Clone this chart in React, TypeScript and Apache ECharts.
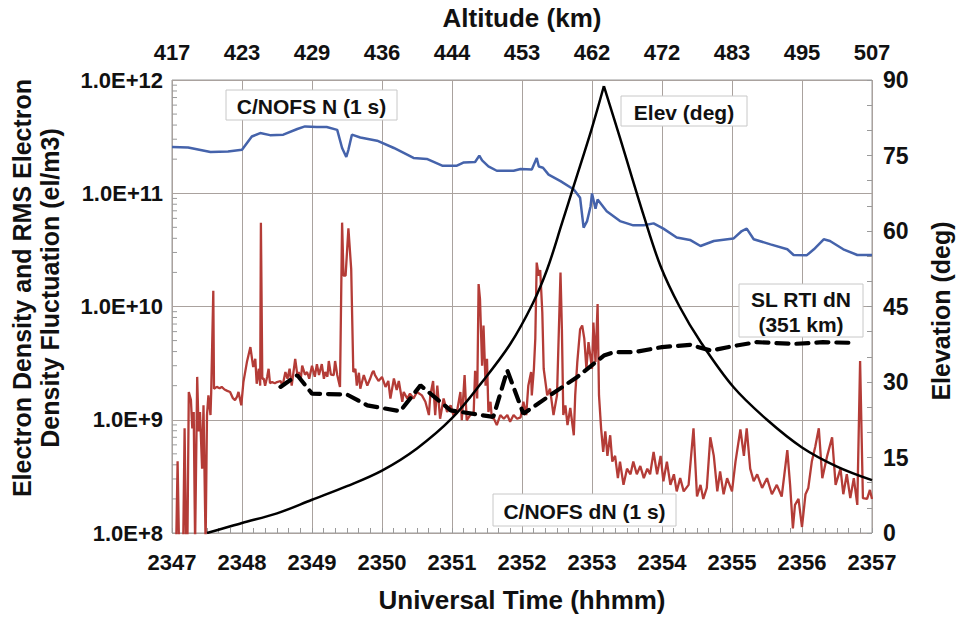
import React, { useEffect, useRef } from "react";
import * as echarts from "echarts";

// ---------- data ----------
const altitudeLabels = ["417", "423", "429", "436", "444", "453", "462", "472", "483", "495", "507"];

// C/NOFS N (1 s)  [UT hhmm, el/m3]
const cnofsN: [number, number][] = [
  [2347.0, 2.56e11], [2347.23, 2.54e11], [2347.55, 2.31e11], [2347.8, 2.34e11], [2348.0, 2.42e11],
  [2348.14, 3.17e11], [2348.26, 3.4e11], [2348.4, 3.26e11], [2348.59, 3.29e11], [2348.79, 3.69e11],
  [2348.9, 3.89e11], [2349.07, 3.84e11], [2349.21, 3.84e11], [2349.36, 3.63e11], [2349.43, 2.51e11],
  [2349.49, 2.09e11], [2349.52, 2.42e11], [2349.57, 3.29e11], [2349.69, 3.11e11], [2349.93, 2.91e11],
  [2350.17, 2.51e11], [2350.45, 2.05e11], [2350.64, 2.01e11], [2350.86, 1.75e11], [2351.07, 1.75e11],
  [2351.17, 1.87e11], [2351.33, 1.89e11], [2351.39, 2.15e11], [2351.43, 1.95e11], [2351.52, 1.73e11],
  [2351.64, 1.58e11], [2351.88, 1.58e11], [2351.98, 1.64e11], [2352.14, 1.62e11], [2352.21, 2.05e11],
  [2352.24, 1.72e11], [2352.3, 1.68e11], [2352.38, 1.46e11], [2352.55, 1.28e11], [2352.74, 1.08e11],
  [2352.83, 9.12e10], [2352.88, 4.97e10], [2352.93, 5.68e10], [2352.98, 7.69e10], [2353.0, 9.95e10],
  [2353.05, 7.3e10], [2353.08, 8.81e10], [2353.21, 6.95e10], [2353.4, 5.68e10], [2353.59, 5.21e10],
  [2353.74, 5.21e10], [2353.88, 5.42e10], [2354.02, 4.87e10], [2354.21, 4.06e10], [2354.4, 3.87e10],
  [2354.55, 3.42e10], [2354.74, 3.79e10], [2355.02, 3.98e10], [2355.14, 4.64e10], [2355.21, 4.87e10],
  [2355.31, 3.92e10], [2355.55, 3.54e10], [2355.79, 3.2e10], [2355.88, 2.85e10], [2356.07, 2.84e10],
  [2356.17, 3.2e10], [2356.31, 3.92e10], [2356.4, 3.79e10], [2356.59, 3.2e10], [2356.79, 2.85e10],
  [2357.0, 2.85e10],
];

// C/NOFS dN (1 s)  [UT hhmm, el/m3]  (8e7 = below the axis floor)
const cnofsDN: [number, number][] = [
  [2347.0, 8e7], [2347.06, 8e7], [2347.08, 4.3e8], [2347.1, 8e7], [2347.16, 8e7], [2347.18, 8.4e8],
  [2347.2, 8e7], [2347.22, 8e7], [2347.24, 1.76e9], [2347.27, 1.5e9], [2347.29, 8.4e8], [2347.31, 1.17e9],
  [2347.33, 8e7], [2347.36, 2.39e9], [2347.38, 7.9e8], [2347.4, 1.17e9], [2347.43, 3.7e8], [2347.45, 1.34e9],
  [2347.48, 8e7], [2347.5, 1.1e9], [2347.52, 1.64e9], [2347.55, 1.1e9], [2347.56, 1.76e9], [2347.59, 1.38e10],
  [2347.6, 1.88e9], [2347.64, 1.95e9], [2347.68, 1.9e9], [2347.71, 1.95e9], [2347.75, 1.85e9], [2347.79, 1.8e9],
  [2347.83, 1.76e9], [2347.87, 1.55e9], [2347.9, 1.49e9], [2347.93, 1.6e9], [2347.95, 1.76e9], [2347.99, 1.34e9],
  [2348.02, 2.15e9], [2348.07, 3.23e9], [2348.12, 4.38e9], [2348.16, 2.92e9], [2348.19, 3.45e9], [2348.21, 2.08e9],
  [2348.24, 2.82e9], [2348.26, 2.0e9], [2348.27, 5.5e10], [2348.29, 2.3e9], [2348.31, 2.31e9], [2348.33, 2.0e9],
  [2348.36, 2.4e9], [2348.38, 2.82e9], [2348.4, 2.1e9], [2348.43, 2.15e9], [2348.47, 2.1e9], [2348.5, 2.15e9],
  [2348.55, 2.2e9], [2348.58, 2.0e9], [2348.62, 2.64e9], [2348.65, 2.3e9], [2348.68, 2.82e9], [2348.71, 2.0e9],
  [2348.76, 3.45e9], [2348.79, 2.5e9], [2348.81, 2.64e9], [2348.84, 2.3e9], [2348.86, 3.0e9], [2348.9, 2.5e9],
  [2348.93, 2.64e9], [2348.96, 2.3e9], [2349.0, 3.0e9], [2349.04, 2.4e9], [2349.07, 3.1e9], [2349.1, 2.48e9],
  [2349.14, 3.1e9], [2349.17, 2.3e9], [2349.19, 2.64e9], [2349.22, 2.4e9], [2349.24, 3.3e9], [2349.27, 2.5e9],
  [2349.31, 2.48e9], [2349.33, 3.3e9], [2349.36, 2.5e9], [2349.38, 2.2e9], [2349.4, 1.95e9], [2349.43, 5.5e10],
  [2349.45, 1.87e10], [2349.48, 1.87e10], [2349.52, 4.9e10], [2349.56, 2.14e10], [2349.59, 2.64e9],
  [2349.62, 2.82e9], [2349.64, 2.0e9], [2349.67, 2.6e9], [2349.69, 1.88e9], [2349.74, 2.48e9], [2349.79, 2.0e9],
  [2349.83, 2.3e9], [2349.86, 2.6e9], [2349.88, 2.7e9], [2349.9, 2.48e9], [2349.95, 2.2e9], [2350.0, 2.39e9],
  [2350.05, 1.95e9], [2350.09, 2.2e9], [2350.12, 1.54e9], [2350.17, 2.31e9], [2350.21, 1.83e9], [2350.24, 2.2e9],
  [2350.29, 1.44e9], [2350.31, 1.76e9], [2350.36, 1.54e9], [2350.4, 1.7e9], [2350.45, 1.54e9], [2350.5, 1.76e9],
  [2350.57, 1.64e9], [2350.62, 1.44e9], [2350.67, 1.1e9], [2350.69, 1.64e9], [2350.73, 2.2e9], [2350.76, 1.1e9],
  [2350.79, 2.0e9], [2350.83, 1.02e9], [2350.88, 1.54e9], [2350.93, 1.17e9], [2350.98, 1.34e9], [2351.02, 1.1e9],
  [2351.07, 1.17e9], [2351.12, 1.76e9], [2351.14, 9.9e8], [2351.18, 2.48e9], [2351.21, 9.9e8], [2351.26, 1.1e9],
  [2351.31, 1.17e9], [2351.33, 2.7e9], [2351.36, 1.54e9], [2351.38, 1.58e10], [2351.4, 1.16e10], [2351.43, 3.0e9],
  [2351.45, 6.8e9], [2351.48, 2.0e9], [2351.5, 3.45e9], [2351.52, 1.17e9], [2351.55, 1.44e9], [2351.57, 1.02e9],
  [2351.59, 1.05e9], [2351.64, 8.96e8], [2351.69, 1.1e9], [2351.74, 1.02e9], [2351.79, 1.1e9], [2351.83, 9.6e8],
  [2351.88, 1.1e9], [2351.93, 1.02e9], [2351.98, 1.05e9], [2352.02, 1.44e9], [2352.06, 1.1e9], [2352.09, 2.0e9],
  [2352.13, 2.64e9], [2352.14, 1.64e9], [2352.17, 2.82e9], [2352.19, 5.2e9], [2352.21, 2.44e10], [2352.24, 1.87e10],
  [2352.26, 2.1e10], [2352.29, 8.9e9], [2352.31, 2.82e9], [2352.36, 1.64e9], [2352.4, 1.88e9], [2352.45, 1.1e9],
  [2352.5, 1.64e9], [2352.55, 2.0e10], [2352.57, 6.3e9], [2352.59, 1.1e9], [2352.62, 1.34e9], [2352.65, 8.96e8],
  [2352.69, 1.27e9], [2352.74, 7.3e8], [2352.76, 1.64e9], [2352.79, 3.23e9], [2352.83, 6.3e9], [2352.86, 6.8e9],
  [2352.89, 5.2e9], [2352.92, 2.82e9], [2352.95, 4.84e9], [2353.0, 2.82e9], [2353.02, 7.2e9], [2353.05, 3.23e9],
  [2353.08, 1.05e10], [2353.1, 1.64e9], [2353.13, 8.4e8], [2353.16, 5.2e8], [2353.19, 7.9e8], [2353.22, 4.8e8],
  [2353.26, 7.3e8], [2353.29, 4.27e8], [2353.33, 4.8e8], [2353.37, 3.05e8], [2353.4, 4.27e8], [2353.45, 2.66e8],
  [2353.5, 3.7e8], [2353.55, 3.3e8], [2353.59, 4.27e8], [2353.64, 3.3e8], [2353.69, 3.9e8], [2353.74, 3.05e8],
  [2353.79, 3.7e8], [2353.83, 3.3e8], [2353.88, 5.2e8], [2353.93, 3.3e8], [2353.98, 4.8e8], [2354.02, 2.86e8],
  [2354.07, 4.27e8], [2354.12, 2.66e8], [2354.17, 3.3e8], [2354.21, 2.33e8], [2354.26, 3.05e8], [2354.31, 2.33e8],
  [2354.38, 2.66e8], [2354.45, 8.4e8], [2354.5, 2.1e8], [2354.55, 2.66e8], [2354.59, 2.0e8], [2354.64, 2.5e8],
  [2354.69, 7.0e8], [2354.74, 4.8e8], [2354.79, 2.33e8], [2354.83, 3.5e8], [2354.88, 2.2e8], [2354.93, 3.05e8],
  [2355.0, 2.33e8], [2355.05, 4.27e8], [2355.12, 8.2e8], [2355.17, 4.8e8], [2355.21, 8.4e8], [2355.26, 3.7e8],
  [2355.31, 2.86e8], [2355.36, 3.3e8], [2355.43, 2.5e8], [2355.5, 3.05e8], [2355.57, 2.2e8], [2355.64, 2.66e8],
  [2355.71, 2.1e8], [2355.79, 5.4e8], [2355.83, 2.66e8], [2355.87, 1.1e8], [2355.9, 1.77e8], [2355.95, 2.0e8],
  [2356.0, 1.13e8], [2356.05, 2.2e8], [2356.09, 2.5e8], [2356.14, 4.27e8], [2356.19, 5.8e8], [2356.24, 8.4e8],
  [2356.29, 3.05e8], [2356.36, 4.8e8], [2356.43, 7.0e8], [2356.48, 2.66e8], [2356.55, 3.7e8], [2356.59, 2.2e8],
  [2356.64, 3.3e8], [2356.69, 2.03e8], [2356.74, 3.05e8], [2356.79, 1.77e8], [2356.83, 3.3e9], [2356.87, 2.03e8],
  [2356.93, 2.0e8], [2356.97, 2.4e8], [2357.0, 2.0e8],
];

// SL RTI dN (351 km)  [UT hhmm, el/m3]
const slRtiDN: [number, number][] = [
  [2348.55, 1.95e9], [2348.79, 2.47e9], [2349.0, 1.7e9], [2349.5, 1.67e9], [2349.79, 1.34e9],
  [2350.26, 1.19e9], [2350.55, 2.01e9], [2350.98, 1.21e9], [2351.59, 1.06e9], [2351.79, 2.73e9],
  [2352.02, 1.13e9], [2352.4, 1.64e9], [2352.79, 2.39e9], [2353.17, 3.69e9], [2353.31, 3.95e9],
  [2353.6, 3.95e9], [2354.0, 4.38e9], [2354.4, 4.59e9], [2354.7, 4.08e9], [2355.0, 4.45e9],
  [2355.35, 4.84e9], [2355.9, 4.68e9], [2356.3, 4.84e9], [2356.75, 4.77e9],
];

// Elev (deg)  [UT hhmm, deg] — rising and setting halves of the pass
const elevationRise: [number, number][] = [
  [2347.5, 0], [2347.75, 1.0], [2348.0, 2.0], [2348.5, 3.9], [2349.0, 6.6], [2349.5, 9.3],
  [2350.0, 12.4], [2350.5, 16.8], [2351.0, 22.8], [2351.43, 30.0], [2351.83, 37.5], [2352.15, 45.5],
  [2352.36, 52.4], [2352.57, 61.5], [2352.74, 69.0], [2353.0, 80.5], [2353.17, 88.8],
];
const elevationSet: [number, number][] = [
  [2353.17, 88.8], [2353.4, 78.5], [2353.74, 63.0], [2353.98, 53.0], [2354.25, 45.0], [2354.55, 38.0],
  [2355.02, 29.0], [2355.5, 22.5], [2356.0, 17.0], [2356.5, 13.2], [2357.0, 10.5],
];

// log-axis minor tick positions (2..9 within every decade)
const decades = [1e8, 1e9, 1e10, 1e11];
const minorMultipliers = [2, 3, 4, 5, 6, 7, 8, 9];

const legendBoxes = [
  { text: "C/NOFS N (1 s)", x: 226, y: 90, w: 171, h: 30 },
  { text: "Elev (deg)", x: 621, y: 96, w: 126, h: 30 },
  { text: "SL RTI dN\n(351 km)", x: 739, y: 284, w: 124, h: 53 },
  { text: "C/NOFS dN (1 s)", x: 493, y: 494, w: 183, h: 32 },
];

const SANS = "'Liberation Sans', Arial, sans-serif";
const NARROW = "'Liberation Sans Narrow', 'Liberation Sans', Arial, sans-serif";
const GRID = "#aaa29e";
const TICK = "#9a9a9a";

export default function App() {
  const ref = useRef<HTMLDivElement>(null);

  useEffect(() => {
    if (!ref.current) return;
    const chart = echarts.init(ref.current, undefined, { renderer: "svg" });

    const minorTicks: [number, number][] = [];
    decades.forEach((d) => minorMultipliers.forEach((m) => minorTicks.push([2347, d * m])));

    const tickLabel = {
      fontFamily: NARROW,
      fontWeight: "bold" as const,
      fontSize: 22,
      color: "#111",
    };
    const titleStyle = { fontFamily: SANS, fontWeight: "bold" as const, fontSize: 26, color: "#111" };

    const elevLine = { color: "#000", width: 2.5 };

    const option: any = {
      animation: false,
      backgroundColor: "#fff",
      grid: {
        left: 172,
        right: 84,
        top: 80,
        bottom: 83,
        show: true,
        borderColor: "#9a9a9a",
        borderWidth: 1,
      },
      xAxis: [
        {
          type: "value",
          min: 2347,
          max: 2357,
          interval: 1,
          position: "bottom",
          name: "Universal Time (hhmm)",
          nameLocation: "middle",
          nameGap: 54,
          nameTextStyle: titleStyle,
          axisLine: { show: false },
          axisTick: { show: true, inside: true, length: 5, lineStyle: { color: TICK } },
          minorTick: { show: true, splitNumber: 6, length: 5, lineStyle: { color: TICK } },
          splitLine: { show: true, lineStyle: { color: GRID, width: 1 } },
          axisLabel: { ...tickLabel, margin: 18, formatter: (v: number) => String(Math.round(v)) },
        },
        {
          type: "value",
          min: 2347,
          max: 2357,
          interval: 1,
          position: "top",
          name: "Altitude (km)",
          nameLocation: "middle",
          nameGap: 49,
          nameTextStyle: titleStyle,
          axisLine: { show: false },
          axisTick: { show: false },
          splitLine: { show: false },
          axisLabel: {
            ...tickLabel,
            margin: 17,
            formatter: (v: number) => altitudeLabels[Math.round(v - 2347)] ?? "",
          },
        },
      ],
      yAxis: [
        {
          type: "log",
          logBase: 10,
          min: 1e8,
          max: 1e12,
          position: "left",
          axisLine: { show: false },
          axisTick: { show: false },
          splitLine: { show: true, lineStyle: { color: GRID, width: 1 } },
          axisLabel: {
            fontFamily: SANS,
            fontWeight: "bold",
            fontSize: 22,
            color: "#111",
            margin: 9,
            formatter: (v: number) => v.toExponential(1).toUpperCase(),
          },
        },
        {
          type: "value",
          min: 0,
          max: 90,
          interval: 15,
          position: "right",
          axisLine: { show: false },
          axisTick: { show: true, inside: true, length: 5, lineStyle: { color: TICK } },
          minorTick: { show: true, splitNumber: 3, length: 5, lineStyle: { color: TICK } },
          splitLine: { show: false },
          axisLabel: { ...tickLabel, fontSize: 23, margin: 11 },
        },
      ],
      series: [
        {
          name: "C/NOFS N (1 s)",
          type: "line",
          xAxisIndex: 0,
          yAxisIndex: 0,
          data: cnofsN,
          showSymbol: false,
          lineStyle: { color: "#4563ab", width: 2.5 },
          z: 3,
        },
        {
          name: "C/NOFS dN (1 s)",
          type: "line",
          xAxisIndex: 0,
          yAxisIndex: 0,
          data: cnofsDN,
          showSymbol: false,
          clip: true,
          lineStyle: { color: "#b43c37", width: 2.3 },
          z: 3,
        },
        {
          name: "SL RTI dN",
          type: "line",
          xAxisIndex: 0,
          yAxisIndex: 0,
          data: slRtiDN,
          showSymbol: false,
          lineStyle: { color: "#000", width: 4.2, type: [12, 8], cap: "round" },
          z: 4,
        },
        {
          name: "Elev (deg)",
          type: "line",
          xAxisIndex: 0,
          yAxisIndex: 1,
          data: elevationRise,
          showSymbol: false,
          smooth: 0.35,
          lineStyle: elevLine,
          z: 4,
        },
        {
          name: "Elev (deg) set",
          type: "line",
          xAxisIndex: 0,
          yAxisIndex: 1,
          data: elevationSet,
          showSymbol: false,
          smooth: 0.35,
          lineStyle: elevLine,
          z: 4,
        },
        {
          name: "log minor ticks",
          type: "custom",
          xAxisIndex: 0,
          yAxisIndex: 0,
          silent: true,
          clip: false,
          data: minorTicks,
          renderItem: (_p: any, api: any) => {
            const pt = api.coord([api.value(0), api.value(1)]);
            return {
              type: "line",
              shape: { x1: pt[0], y1: pt[1], x2: pt[0] + 5, y2: pt[1] },
              style: { stroke: TICK, lineWidth: 1 },
            };
          },
          z: 2,
        },
      ],
      graphic: [
        ...legendBoxes.map((b) => ({
          type: "group",
          x: b.x,
          y: b.y,
          z: 100,
          children: [
            {
              type: "rect",
              z: 100,
              shape: { x: 0, y: 0, width: b.w, height: b.h },
              style: { fill: "#fff", stroke: "#c8c8c8", lineWidth: 1 },
            },
            {
              type: "text",
              z: 101,
              x: b.w / 2,
              y: b.h / 2 + 1,
              style: {
                text: b.text,
                fill: "#111",
                fontFamily: SANS,
                fontWeight: "bold",
                fontSize: 21,
                lineHeight: 25,
                align: "center",
                verticalAlign: "middle",
              },
            },
          ],
        })),
        {
          type: "text",
          x: 36,
          y: 288,
          rotation: Math.PI / 2,
          style: {
            text: "Electron Density and RMS Electron\nDensity Fluctuation (el/m3)",
            fill: "#111",
            fontFamily: SANS,
            fontWeight: "bold",
            fontSize: 25,
            lineHeight: 28,
            align: "center",
            verticalAlign: "middle",
          },
        },
        {
          type: "text",
          x: 941,
          y: 311,
          rotation: Math.PI / 2,
          style: {
            text: "Elevation (deg)",
            fill: "#111",
            fontFamily: SANS,
            fontWeight: "bold",
            fontSize: 25,
            align: "center",
            verticalAlign: "middle",
          },
        },
      ],
    };

    chart.setOption(option);
    return () => chart.dispose();
  }, []);

  return (
    <div
      ref={ref}
      style={{ position: "absolute", left: 0, top: 0, width: 956, height: 618, background: "#fff" }}
    />
  );
}
